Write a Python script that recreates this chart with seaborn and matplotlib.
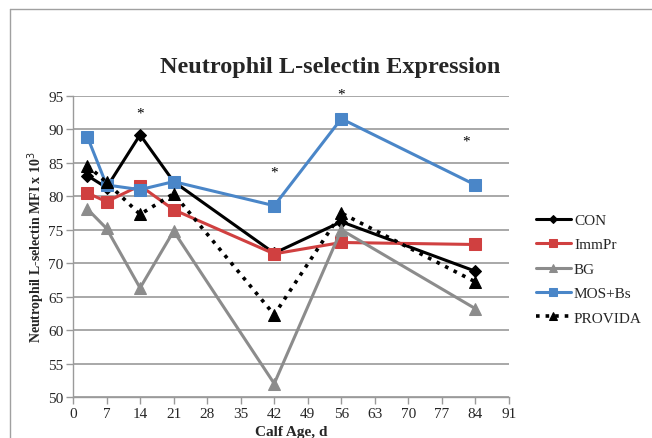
import matplotlib
matplotlib.use("Agg")
import matplotlib.pyplot as plt
import seaborn as sns
import pandas as pd
from matplotlib.lines import Line2D

days = [3, 7, 14, 21, 42, 56, 84]
con = [83.1, 81.3, 89.2, 82.2, 71.5, 76.2, 68.8]
immpr = [80.5, 79.2, 81.6, 78.0, 71.4, 73.1, 72.8]
bg = [78.1, 75.2, 66.3, 74.8, 52.0, 75.0, 63.2]
mos_bs = [88.9, 81.7, 81.0, 82.2, 78.6, 91.6, 81.7]
provida = [84.6, 82.1, 77.3, 80.4, 62.3, 77.5, 67.2]
series_names = ["CON", "ImmPr", "BG", "MOS+Bs", "PROVIDA"]
sig_days = [14, 42, 56, 82]
sig_y = [92.4, 83.6, 95.3, 88.2]
x_ticks = list(range(0, 92, 7))
y_ticks = list(range(50, 96, 5))

sns.set_style("white")
plt.rcParams['font.family'] = ['Liberation Serif', 'DejaVu Serif']

fig = plt.figure(figsize=(6.52, 4.39), dpi=100)
ax = fig.add_axes([73/652, 1-398/439, (509-73)/652, (398-97)/439])

styles = {
    "CON": dict(color="black", marker="D", markersize=6, linestyle="-"),
    "ImmPr": dict(color="#d04040", marker="s", markersize=8, linestyle="-"),
    "BG": dict(color="#8c8c8c", marker="^", markersize=8, linestyle="-"),
    "MOS+Bs": dict(color="#4a86c8", marker="s", markersize=8, linestyle="-"),
    "PROVIDA": dict(color="black", marker="^", markersize=8, linestyle=":"),
}
values = [con, immpr, bg, mos_bs, provida]
df = pd.DataFrame({"day": days * 5,
                   "value": sum(values, []),
                   "group": [n for n in series_names for _ in days]})
for name in series_names:
    st = styles[name]
    sub = df[df.group == name]
    sns.lineplot(data=sub, x="day", y="value", ax=ax, color=st["color"],
                 marker=st["marker"], markersize=st["markersize"],
                 linestyle=st["linestyle"], linewidth=2.2 if name != "PROVIDA" else 2.6,
                 markeredgecolor=st["color"], label=name, zorder=3)

for d, yv in zip(sig_days, sig_y):
    ax.text(d, yv, "*", ha="center", va="center", fontsize=11, color="black")

ax.set_xlim(0, 91)
ax.set_ylim(50, 95)
ax.set_xticks(x_ticks)
ax.set_yticks(y_ticks)
ax.yaxis.grid(True, color="#9a9a9a", linewidth=1.2)
ax.xaxis.grid(False)
for s in ["top", "right"]:
    ax.spines[s].set_visible(False)
for s in ["left", "bottom"]:
    ax.spines[s].set_color("#9a9a9a")
    ax.spines[s].set_linewidth(1.0)
ax.tick_params(axis="both", which="both", length=5, width=1, color="#9a9a9a",
               labelsize=11, direction="out", pad=2, left=True, bottom=True)
ax.set_xlabel("Calf Age, d", fontsize=11, fontweight="bold", labelpad=4)
ax.set_ylabel("Neutrophil L-selectin MFI x 10$^3$", fontsize=10, fontweight="bold", labelpad=1)

fig.text(330/652, 1-68/439, "Neutrophil L-selectin Expression", ha="center", va="center",
         fontsize=17.5, fontweight="bold")

leg = ax.legend(loc="center left", bbox_to_anchor=(522/652, 1-270/439),
                bbox_transform=fig.transFigure, frameon=False, fontsize=11,
                handlelength=2.3, labelspacing=0.7, handletextpad=0.2, markerscale=0.75)

fig.add_artist(Line2D([10/652, 10/652], [0, 1-10/439], color="#a0a0a0", lw=1, transform=fig.transFigure))
fig.add_artist(Line2D([10/652, 1], [1-10/439, 1-10/439], color="#a0a0a0", lw=1, transform=fig.transFigure))

fig.savefig("out.png", dpi=100)
